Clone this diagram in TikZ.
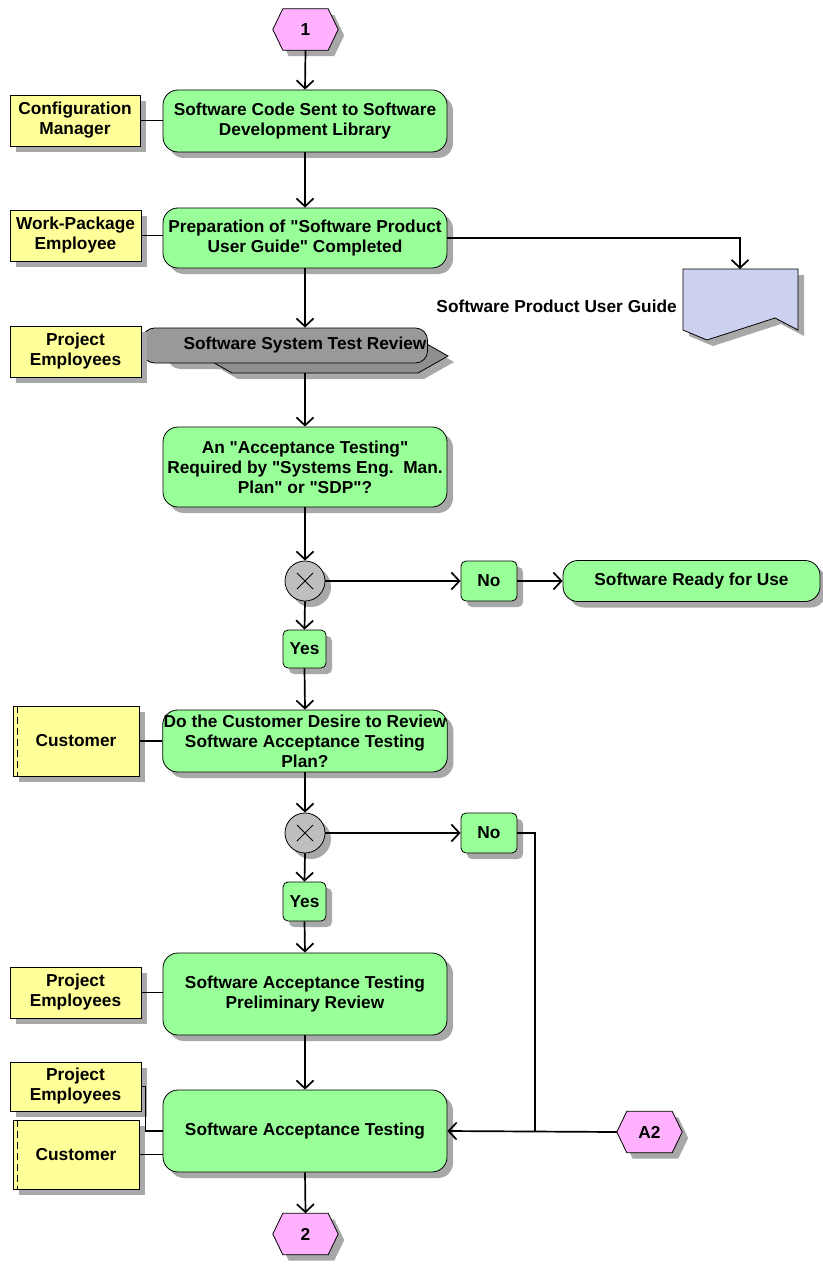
\documentclass[tikz,border=0pt]{standalone}
\usepackage{fontspec}
\setmainfont{Liberation Sans}
\usetikzlibrary{arrows.meta,shadows,backgrounds}
\definecolor{boxgreen}{HTML}{99FF99}
\definecolor{roleyellow}{HTML}{FFFF99}
\definecolor{linkpink}{HTML}{FFB0FF}
\definecolor{docblue}{HTML}{CCD1F0}
\definecolor{gategray}{HTML}{BEBEBE}
\definecolor{reviewfront}{HTML}{999999}
\definecolor{reviewback}{HTML}{8F8F8F}
\definecolor{shadowgray}{HTML}{A8A8A8}
% straight double quote, taken directly from the font's glyph table
\newcommand\dq{\XeTeXglyph\XeTeXglyphindex "quotedbl"\relax}
\begin{document}
\begin{tikzpicture}[x=1pt,y=-1pt,
  font=\bfseries\fontsize{17.3}{20}\selectfont,
  conn/.style={line width=1.7pt},
  flow/.style={conn,-{Straight Barb[length=8pt,width=17pt]}},
  castshadow/.style={drop shadow={shadow xshift=6pt,shadow yshift=-6pt,fill=shadowgray,opacity=1}},
  func/.style={rectangle,draw,line width=0.8pt,fill=boxgreen,rounded corners=15pt,
    minimum width=284pt,align=center,inner sep=1pt,castshadow},
  role/.style={rectangle,draw,line width=0.8pt,fill=roleyellow,align=center,
    minimum width=131pt,minimum height=51pt,inner sep=1pt,castshadow},
  tag/.style={rectangle,draw,line width=0.8pt,fill=boxgreen,rounded corners=5pt,
    minimum height=40pt,inner sep=1pt,castshadow},
  gate/.style={circle,draw,line width=0.8pt,fill=gategray,minimum size=40pt,inner sep=0pt,castshadow},
  hexlbl/.style={rectangle,minimum width=65pt,minimum height=41pt,inner sep=0pt},
  hexfill/.style={draw,line width=0.8pt,fill=linkpink,castshadow}
]
\useasboundingbox (0,0) rectangle (822,1273);

% ---------- connector hexagons (labels) ----------
\node[hexlbl] (h1) at (305.5,29.5) {1};
\node[hexlbl] (h2) at (305.5,1234) {2};
\node[hexlbl] (a2) at (649.5,1132) {A2};
\begin{pgfonlayer}{background}
\foreach \n in {h1,h2,a2}
  \draw[hexfill] (\n.west) -- ([xshift=10pt]\n.north west) -- ([xshift=-10pt]\n.north east)
    -- (\n.east) -- ([xshift=-10pt]\n.south east) -- ([xshift=10pt]\n.south west) -- cycle;
\end{pgfonlayer}

% ---------- functions ----------
\node[func,minimum height=62pt] (f1) at (305,121) {Software Code Sent to Software\\Development Library};
\node[func,minimum height=60pt] (f2) at (305,238) {Preparation of \dq Software Product\\User Guide\dq\ Completed};

% process interface: system test review
\fill[shadowgray,rounded corners=12pt] (168,334) rectangle (414,369);
\draw[line width=0.8pt,fill=reviewback,castshadow]
  (202,356) -- (232,339) -- (418,339) -- (448,356) -- (418,373) -- (232,373) -- cycle;
\node[rectangle,draw,line width=0.8pt,fill=reviewfront,rounded corners=12pt,
  minimum width=246pt,minimum height=35pt,inner sep=1pt] (rv) at (285,345.5)
  {\hspace*{40pt}Software System Test Review};
\coordinate (rvbot) at (305,373);

\node[func,minimum height=80pt] (f3) at (305,467)
  {An \dq Acceptance Testing\dq\\Required by \dq Systems Eng.~~Man.\\Plan\dq\ or \dq SDP\dq ?};
\node[func,minimum height=62pt] (f4) at (305,741)
  {Do the Customer Desire to Review\\Software Acceptance Testing\\Plan?};
\node[func,minimum height=82pt] (f5) at (305,994)
  {Software Acceptance Testing\\Preliminary Review};
\node[func,minimum height=82pt] (f6) at (305,1131) {Software Acceptance Testing};
\node[func,minimum width=257pt,minimum height=41pt] (rdy) at (691.5,581) {Software Ready for Use};

% ---------- gateways and decisions ----------
\node[gate] (g1) at (305,581) {};
\node[gate] (g2) at (305,833) {};
\foreach \g in {g1,g2}
  \draw[line width=0.8pt] ([shift={(-8pt,-8pt)}]\g.center) -- ([shift={(8pt,8pt)}]\g.center)
    ([shift={(-8pt,8pt)}]\g.center) -- ([shift={(8pt,-8pt)}]\g.center);
\node[tag,minimum width=56pt] (n1) at (489,581) {No};
\node[tag,minimum width=56pt] (n2) at (489,833) {No};
\node[tag,minimum width=43pt,minimum height=38pt] (y1) at (304.5,649) {Yes};
\node[tag,minimum width=43pt,minimum height=39pt] (y2) at (304.5,901.5) {Yes};

% ---------- document ----------
\draw[line width=0.8pt,fill=docblue,castshadow]
  (683,269) -- (798,269) -- (798,330) -- (775,318) -- (707,340) -- (683,330) -- cycle;
\coordinate (doctop) at (740,269);
\node[anchor=east,inner sep=0pt] (doclbl) at (677,306) {Software Product User Guide};

% ---------- roles ----------
\node[role,minimum width=130pt] (r1) at (75,120.5) {Configuration\\Manager};
\node[role] (r2) at (75.5,235.5) {Work-Package\\Employee};
\node[role] (r3) at (75.5,351.5) {Project\\Employees};
\node[role,minimum width=126pt,minimum height=70pt] (r4) at (76,741) {Customer};
\node[role] (r5) at (75.5,992.5) {Project\\Employees};
\node[role,minimum height=49pt] (r6) at (75.5,1086.5) {Project\\Employees};
\node[role,minimum width=126pt,minimum height=69pt] (r7) at (76,1154.5) {Customer};
\foreach \r in {r4,r7}
  \draw[line width=0.6pt,dash pattern=on 7pt off 4pt]
    ([xshift=5pt]\r.north west) -- ([xshift=5pt]\r.south west);

% ---------- control flow ----------
\draw[flow] (h1.south) -- (f1.north);
\draw[flow] (f1.south) -- (f2.north);
\draw[flow] (f2.east) -| (doctop);
\draw[flow] (f2.south) -- (f2.south |- rv.north);
\draw[flow] (rvbot) -- (f3.north);
\draw[flow] (f3.south) -- (g1.north);
\draw[flow] (g1.east) -- (n1.west);
\draw[flow] (n1.east) -- (rdy.west);
\draw[flow] (g1.south) -- (y1.north);
\draw[flow] (y1.south) -- (f4.north);
\draw[flow] (f4.south) -- (g2.north);
\draw[flow] (g2.east) -- (n2.west);
\draw[flow] (g2.south) -- (y2.north);
\draw[flow] (y2.south) -- (f5.north);
\draw[flow] (f5.south) -- (f6.north);
\coordinate (join) at (535,1131);
\draw[conn] (n2.east) -| (join);
\draw[flow] (a2.west) -- (f6.east);
\draw[flow] (f6.south) -- (h2.north);

% ---------- role assignments ----------
\draw[conn] (r1.east) -- (r1.east -| f1.west);
\draw[conn] (r2.east) -- (r2.east -| f2.west);
\draw[conn] (r3.east) -- (r3.east -| rv.west);
\draw[conn] (r4.east) -- (r4.east -| f4.west);
\draw[conn] (r5.east) -- (r5.east -| f5.west);
\draw[conn] (r6.east) -- ++(4pt,0) |- (f6.west);
\draw[conn] (r7.east) -- (r7.east -| f6.west);
\end{tikzpicture}
\end{document}
